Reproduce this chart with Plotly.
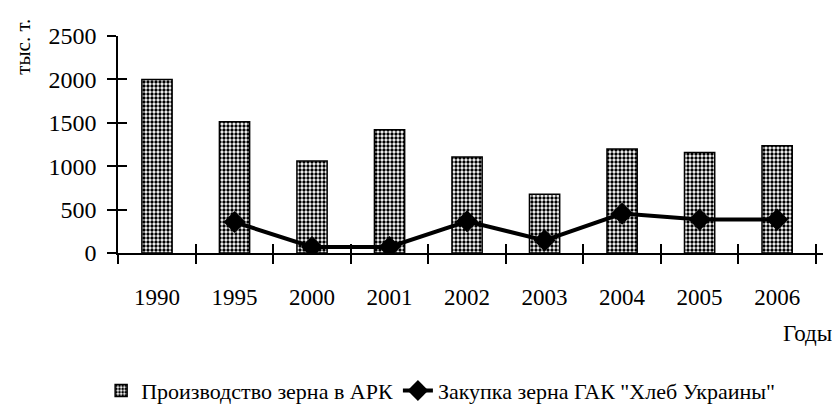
import plotly.graph_objects as go

years = ["1990", "1995", "2000", "2001", "2002", "2003", "2004", "2005", "2006"]
production = [2000, 1512, 1060, 1421, 1106, 676, 1198, 1157, 1237]
purchase_years = ["1995", "2000", "2001", "2002", "2003", "2004", "2005", "2006"]
purchase = [357, 69, 69, 365, 146, 454, 385, 385]
y_ticks = [0, 500, 1000, 1500, 2000, 2500]

FONT = "Liberation Serif"

fig = go.Figure()
fig.add_trace(go.Bar(
    x=years, y=production, name="Производство зерна в АРК",
    width=0.39,
    marker=dict(color="white", line=dict(color="black", width=1.5),
                pattern=dict(shape=".", fgcolor="black", bgcolor="white",
                             size=4, solidity=0.55, fillmode="replace")),
))
fig.add_trace(go.Scatter(
    x=purchase_years, y=purchase, name='Закупка зерна ГАК "Хлеб Украины"',
    mode="lines+markers",
    line=dict(color="black", width=4),
    marker=dict(symbol="diamond", size=17, color="black"),
))
# invisible trace for overlay axes (inner tick halves)
fig.add_trace(go.Scatter(x=years, y=[None]*len(years), xaxis="x2", yaxis="y2",
                         showlegend=False, hoverinfo="skip"))

axis_common = dict(showgrid=False, zeroline=False, tickcolor="black", tickwidth=1.5)
fig.update_layout(
    width=832, height=405,
    margin=dict(l=110, r=17, t=28, b=160),
    paper_bgcolor="white", plot_bgcolor="white",
    font=dict(family=FONT, size=23, color="black"),
    xaxis=dict(type="category", categoryorder="array", categoryarray=years,
               showline=True, linecolor="black", linewidth=1.5,
               ticks="outside", ticklen=9, tickson="boundaries",
               ticklabelstandoff=23, tickfont=dict(size=23), **axis_common),
    yaxis=dict(range=[0, 2500], tickvals=y_ticks, showline=True,
               linecolor="black", linewidth=1.5, ticks="outside", ticklen=9,
               ticklabelstandoff=6, tickfont=dict(size=24), **axis_common),
    xaxis2=dict(type="category", categoryorder="array", categoryarray=years,
                overlaying="x", matches="x", showticklabels=False,
                ticks="inside", ticklen=9, tickson="boundaries", showline=False,
                **axis_common),
    yaxis2=dict(range=[0, 2500], tickvals=y_ticks, overlaying="y",
                showticklabels=False, ticks="inside", ticklen=9, showline=False,
                **axis_common),
    legend=dict(orientation="h", xref="container", yref="container",
                x=0.52, xanchor="center", y=0.055, yanchor="middle",
                font=dict(family=FONT, size=22), itemwidth=30,
                traceorder="normal", bgcolor="rgba(0,0,0,0)"),
    annotations=[
        dict(text="Годы", xref="paper", yref="paper", x=1.016, xanchor="right",
             y=-0.369, yanchor="middle", showarrow=False,
             font=dict(family=FONT, size=23)),
        dict(text="тыс. т.", xref="paper", yref="paper", x=-0.135, xanchor="center",
             y=0.95, yanchor="middle", textangle=-90, showarrow=False,
             font=dict(family=FONT, size=21)),
    ],
)

fig.write_html("out.html")
